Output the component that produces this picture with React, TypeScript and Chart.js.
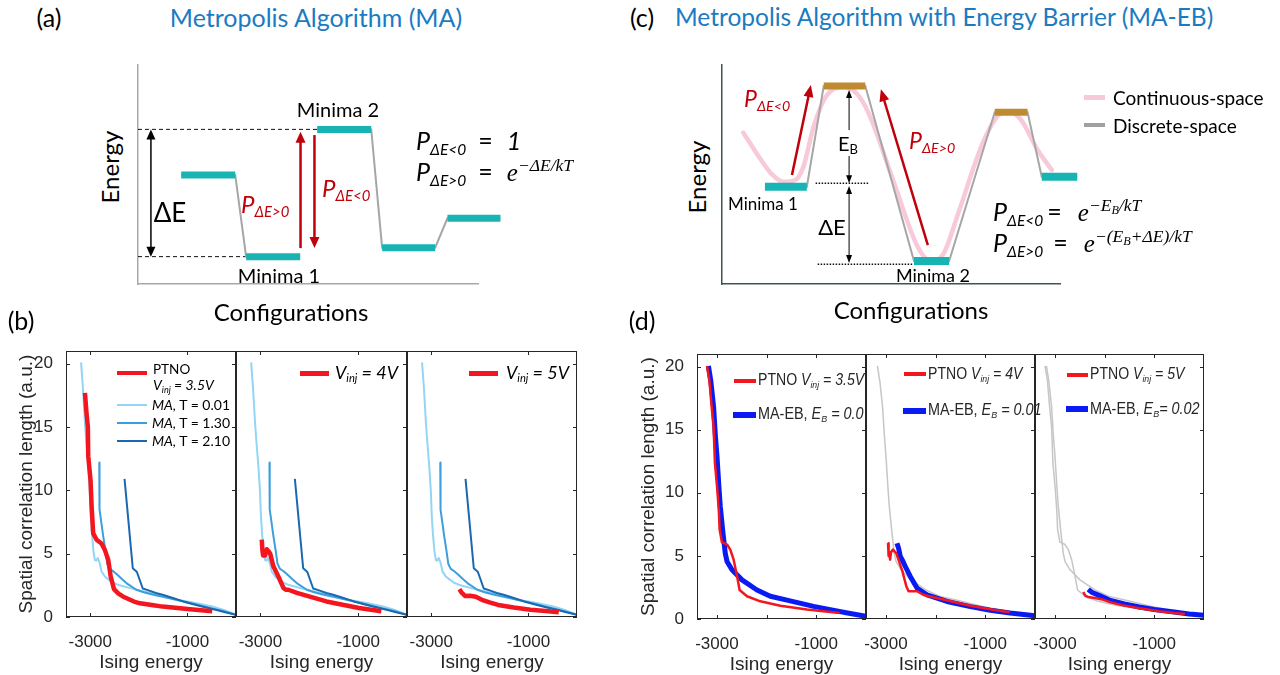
import React, { useEffect, useRef } from 'react';
import { Chart, registerables } from 'chart.js';

Chart.register(...registerables);

const SANS = '"Liberation Sans", Arial, Helvetica, sans-serif';
const NARROW = '"Liberation Sans Narrow", "Liberation Sans", Arial, sans-serif';
const CAL = 'Lato, "Open Sans", sans-serif';
const SERIF = '"Liberation Serif", "DejaVu Serif", serif';
const AX = '#262626';

const C_RED = '#f4161e';
const C_MA1 = '#92d5f5';
const C_MA2 = '#3c9fdd';
const C_MA3 = '#1a68b0';
const C_BLUE = '#0a1af2';
const C_GRAY = '#c6c6c6';
const C_TEAL = '#18b4b4';
const C_BROWN = '#bf8b31';
const C_DRED = '#c0000b';
const C_PINK = '#f8c9d9';
const C_PATH = '#a6a6a6';
const C_TITLE = '#1b7bc2';

// ---------------- (b) data: Ising energy vs spatial correlation length ----------------
const maT001X = [-3190, -3150, -3110, -3075, -3040, -3010, -2990, -2965, -2935, -2905, -2880, -2845, -2810, -2770, -2700, -2620, -2530, -2400, -2200, -1950, -1680, -1450, -1250, -1000, -830, -490, -250, 0];
const maT001Y = [20.1, 18.0, 15.3, 13.5, 11.8, 10.0, 8.0, 6.5, 5.2, 4.5, 4.45, 4.65, 4.3, 3.6, 3.2, 2.95, 2.7, 2.5, 2.3, 2.05, 1.85, 1.6, 1.38, 1.22, 1.1, 0.84, 0.55, 0.18];

const maT130X = [-2815, -2812, -2808, -2770, -2735, -2690, -2650, -2600, -2540, -2460, -2350, -2250, -2050, -1900, -1700, -1511, -1300, -1085, -880, -660, -400, -200, 0];
const maT130Y = [12.2, 10.2, 8.5, 7.4, 6.4, 5.3, 4.2, 3.8, 3.65, 3.4, 3.0, 2.66, 2.15, 1.95, 1.75, 1.6, 1.42, 1.23, 1.05, 0.84, 0.6, 0.4, 0.18];

const maT210X = [-2295, -2125, -2080, -2040, -1980, -1920, -1800, -1650, -1511, -1300, -1085, -880, -660, -400, -200, 0];
const maT210Y = [10.9, 3.85, 3.7, 3.55, 2.9, 2.25, 2.1, 1.9, 1.76, 1.5, 1.23, 1.0, 0.79, 0.55, 0.35, 0.18];

const ptno35bX = [-3110, -3080, -3050, -3042, -2995, -2972, -2940, -2870, -2770, -2700, -2630, -2580, -2512, -2420, -2320, -2100, -1976, -1700, -1511, -1000, -490];
const ptno35bY = [17.7, 16.2, 15.0, 12.7, 10.8, 8.7, 6.6, 6.1, 5.8, 5.3, 4.5, 3.2, 2.2, 1.85, 1.6, 1.22, 1.08, 0.92, 0.82, 0.63, 0.45];

const ptno4bX = [-2973, -2960, -2945, -2925, -2905, -2870, -2835, -2800, -2735, -2633, -2530, -2480, -2428, -2255, -1650, -983, -525];
const ptno4bY = [6.1, 5.3, 4.85, 5.1, 4.85, 5.35, 5.2, 5.0, 4.0, 3.2, 2.3, 2.15, 2.15, 1.9, 1.23, 0.71, 0.45];

const ptno5bX = [-2420, -2380, -2300, -2200, -2083, -1958, -1800, -1625, -1300, -958, -650, -375];
const ptno5bY = [2.2, 1.95, 1.65, 1.68, 1.6, 1.36, 1.15, 0.95, 0.75, 0.58, 0.47, 0.37];

// ---------------- (d) data ----------------
const ptno35dX = [-3199, -3150, -3110, -3066, -3040, -2990, -2960, -2945, -2900, -2796, -2730, -2663, -2595, -2543, -2394, -2126, -1724, -1187, -718, -530];
const ptno35dY = [20.05, 18.9, 17.0, 15.2, 12.4, 10.2, 8.5, 7.1, 6.1, 5.9, 5.5, 4.7, 3.4, 2.3, 1.8, 1.4, 1.05, 0.76, 0.55, 0.48];

const maeb00X = [-3170, -3120, -3066, -3030, -2998, -2960, -2931, -2877, -2831, -2796, -2696, -2495, -2193, -1925, -1589, -1054, -718, -400, 0];
const maeb00Y = [20.05, 18.8, 16.8, 14.5, 12.9, 10.5, 8.9, 6.8, 5.2, 4.56, 3.9, 3.1, 2.3, 1.8, 1.5, 1.0, 0.74, 0.5, 0.21];

const ptno4dX = [-2957, -2945, -2931, -2915, -2897, -2857, -2790, -2676, -2589, -2543, -2374, -2241, -1800, -1300, -900, -510];
const ptno4dY = [6.0, 5.0, 5.2, 4.7, 5.3, 5.5, 5.2, 3.9, 2.6, 2.2, 2.2, 1.9, 1.5, 1.05, 0.78, 0.53];

const maeb001X = [-2777, -2744, -2710, -2660, -2609, -2509, -2374, -2173, -1770, -1300, -900, -500, 0];
const maeb001Y = [6.0, 5.6, 4.96, 4.6, 4.16, 3.37, 2.45, 1.92, 1.39, 0.98, 0.7, 0.48, 0.25];

const ptno5dX = [-2428, -2390, -2328, -2193, -2050, -1900, -1650, -1300, -900, -600, -384];
const ptno5dY = [2.14, 1.85, 1.74, 1.66, 1.55, 1.35, 1.1, 0.85, 0.62, 0.48, 0.4];

const maeb002X = [-2330, -2250, -2100, -1900, -1600, -1300, -1000, -600, -300, 0];
const maeb002Y = [2.35, 2.1, 1.85, 1.5, 1.2, 0.95, 0.75, 0.55, 0.4, 0.3];

const yTickValues = [0, 5, 10, 15, 20];
const bXTicks = [-3000, -1000];
const dXTicks = [-3000, -2000, -1000];
const xTickLabels = [-3000, -1000];

// ---------------- (a) schematic data (configuration 0-100, energy 0-100) ----------------
const aLevelStart = [12.7, 31.8, 52.7, 71.8, 91.0];
const aLevelEnd = [28.6, 47.7, 68.6, 87.4, 106.6];
const aLevelEnergy = [49.8, 12.5, 70.6, 16.6, 30.0];
const aLinked = [true, false, true, true];
const aDashEnergy = [70.6, 12.5];
const aDashEnd = [52.7, 31.8];

// ---------------- (c) schematic data ----------------
const cMinStart = [12.7, 56.8, 94.6];
const cMinEnd = [25.1, 67.2, 105.1];
const cMinEnergy = [44.4, 10.5, 49.0];
const cBarStart = [30.1, 80.7];
const cBarEnd = [42.4, 90.4];
const cBarEnergy = [90.4, 78.4];
const cContX = [6.3, 10.9, 14.5, 18.1, 21.7, 24.1, 27.1, 30.7, 35.5, 39.8, 43.4, 50.6, 57.9, 62.0, 65.6, 69.9, 77.1, 81.9, 84.9, 88.5, 93.4, 97.6];
const cContY = [69.1, 58.1, 50.5, 46.7, 47.5, 53.6, 71.8, 85.5, 89.8, 87.1, 77.9, 47.5, 17.0, 10.2, 14.0, 32.3, 64.2, 77.2, 78.7, 74.9, 61.2, 52.0];
const cDotEnergy = [46, 9];
const cDotStart = [27.7, 28.3];
const cDotEnd = [43.4, 56.6];

type Series = { xs: number[]; ys: number[]; color: string; width: number };

function linePts(xs: number[], ys: number[]) {
  return xs.map((x, i) => ({ x, y: ys[i] }));
}

const boxPlugin = {
  id: 'mbox',
  afterDatasetsDraw(chart: any) {
    const { ctx, chartArea: a } = chart;
    const xs = chart.scales.x;
    const ys = chart.scales.y;
    const showLeft = chart.options.scales.y.ticks.display;
    ctx.save();
    ctx.strokeStyle = AX;
    ctx.lineWidth = 1;
    ctx.strokeRect(a.left + 0.5, a.top + 0.5, a.right - a.left - 1, a.bottom - a.top - 1);
    const L = 4;
    ctx.beginPath();
    xs.ticks.forEach((t: any) => {
      const px = Math.round(xs.getPixelForValue(t.value)) + 0.5;
      ctx.moveTo(px, a.bottom);
      ctx.lineTo(px, a.bottom - L);
      ctx.moveTo(px, a.top);
      ctx.lineTo(px, a.top + L);
    });
    ys.ticks.forEach((t: any) => {
      const py = Math.round(ys.getPixelForValue(t.value)) + 0.5;
      if (showLeft) {
        ctx.moveTo(a.left, py);
        ctx.lineTo(a.left + L, py);
      }
      ctx.moveTo(a.right, py);
      ctx.lineTo(a.right - L, py);
    });
    ctx.stroke();
    ctx.restore();
  },
};

type PanelOpts = { xmin: number; xmax: number; xticks: number[]; showY: boolean; yw: number; pt: number; pr: number; xh: number };

function plotConfig(series: Series[], o: PanelOpts) {
  const n = series.length;
  return {
    type: 'line',
    data: {
      datasets: series.map((s, i) => ({
        data: linePts(s.xs, s.ys),
        borderColor: s.color,
        borderWidth: s.width,
        pointRadius: 0,
        pointHoverRadius: 0,
        tension: 0,
        fill: false,
        order: n - i,
        borderJoinStyle: 'round',
        borderCapStyle: 'butt',
      })),
    },
    options: {
      responsive: false,
      animation: false,
      events: [],
      layout: { padding: { left: 0, top: o.pt, right: o.pr, bottom: 0 } },
      plugins: { legend: { display: false }, tooltip: { enabled: false } },
      scales: {
        x: {
          type: 'linear',
          min: o.xmin,
          max: o.xmax,
          afterBuildTicks: (s: any) => {
            s.ticks = o.xticks.map((v) => ({ value: v }));
          },
          afterFit: (s: any) => {
            s.height = o.xh;
          },
          ticks: {
            autoSkip: false,
            maxRotation: 0,
            minRotation: 0,
            padding: 7,
            color: AX,
            font: { family: SANS, size: 17 },
            callback: (v: number) => (xTickLabels.indexOf(v) >= 0 ? String(v) : ''),
          },
          grid: { display: false },
          border: { display: false },
          title: { display: true, text: 'Ising energy', color: AX, font: { family: SANS, size: 19 }, padding: 0 },
        },
        y: {
          type: 'linear',
          min: 0,
          max: 21,
          afterBuildTicks: (s: any) => {
            s.ticks = yTickValues.map((v) => ({ value: v }));
          },
          afterFit: (s: any) => {
            s.width = o.yw;
          },
          ticks: { display: o.showY, padding: 5, color: AX, font: { family: SANS, size: 17 }, callback: (v: number) => String(v) },
          grid: { display: false },
          border: { display: false },
          title: { display: o.showY, text: 'Spatial correlation length (a.u.)', color: AX, font: { family: SANS, size: 19 }, padding: 0 },
        },
      },
    },
    plugins: [boxPlugin],
  };
}

type Arrow = { x1: number; y1: number; x2: number; y2: number; color: string; width: number; len: number; hw: number; both?: boolean };

function arrowPlugin(items: Arrow[]) {
  return {
    id: 'arrows',
    afterDatasetsDraw(chart: any) {
      const { ctx } = chart;
      const xs = chart.scales.x;
      const ys = chart.scales.y;
      const head = (x: number, y: number, ang: number, len: number, w: number) => {
        const c = Math.cos(ang);
        const s = Math.sin(ang);
        ctx.beginPath();
        ctx.moveTo(x, y);
        ctx.lineTo(x - len * c + (w / 2) * s, y - len * s - (w / 2) * c);
        ctx.lineTo(x - len * c - (w / 2) * s, y - len * s + (w / 2) * c);
        ctx.closePath();
        ctx.fill();
      };
      items.forEach((a) => {
        const x1 = xs.getPixelForValue(a.x1);
        const y1 = ys.getPixelForValue(a.y1);
        const x2 = xs.getPixelForValue(a.x2);
        const y2 = ys.getPixelForValue(a.y2);
        const ang = Math.atan2(y2 - y1, x2 - x1);
        const c = Math.cos(ang);
        const s = Math.sin(ang);
        ctx.save();
        ctx.strokeStyle = a.color;
        ctx.fillStyle = a.color;
        ctx.lineWidth = a.width;
        ctx.beginPath();
        const k = a.len * 0.8;
        ctx.moveTo(a.both ? x1 + c * k : x1, a.both ? y1 + s * k : y1);
        ctx.lineTo(x2 - c * k, y2 - s * k);
        ctx.stroke();
        head(x2, y2, ang, a.len, a.hw);
        if (a.both) head(x1, y1, ang + Math.PI, a.len, a.hw);
        ctx.restore();
      });
    },
  };
}

function seg(pts: any[], color: string, width: number, extra: any = {}) {
  return { data: pts, borderColor: color, borderWidth: width, pointRadius: 0, tension: 0, fill: false, clip: false, borderCapStyle: 'butt', ...extra };
}

function diagramConfig(datasets: any[], arrows: Arrow[], padding: any, axisColor: string) {
  const n = datasets.length;
  datasets.forEach((d, i) => {
    d.order = n - i;
  });
  return {
    type: 'line',
    data: { datasets },
    options: {
      responsive: false,
      animation: false,
      events: [],
      layout: { padding },
      plugins: { legend: { display: false }, tooltip: { enabled: false } },
      scales: {
        x: {
          type: 'linear', min: 0, max: 100,
          ticks: { display: false }, grid: { display: false },
          border: { display: true, color: axisColor, width: 1.5 },
          afterFit: (s: any) => { s.height = 0; },
        },
        y: {
          type: 'linear', min: 0, max: 100,
          ticks: { display: false }, grid: { display: false },
          border: { display: true, color: axisColor, width: 1.5 },
          afterFit: (s: any) => { s.width = 0; },
        },
      },
    },
    plugins: [arrowPlugin(arrows)],
  };
}

function makeA() {
  const ds: any[] = [];
  aDashEnergy.forEach((e, i) => ds.push(seg([{ x: 0, y: e }, { x: aDashEnd[i], y: e }], '#111', 1, { borderDash: [4, 3] })));
  const path: any[] = [];
  aLevelStart.forEach((s, i) => {
    if (i > 0 && !aLinked[i - 1]) path.push({ x: (aLevelEnd[i - 1] + s) / 2, y: null });
    path.push({ x: s, y: aLevelEnergy[i] }, { x: aLevelEnd[i], y: aLevelEnergy[i] });
  });
  ds.push(seg(path, C_PATH, 2));
  aLevelStart.forEach((s, i) => ds.push(seg([{ x: s, y: aLevelEnergy[i] }, { x: aLevelEnd[i], y: aLevelEnergy[i] }], C_TEAL, 7)));
  const arrows: Arrow[] = [
    { x1: 3.8, y1: aLevelEnergy[1], x2: 3.8, y2: aLevelEnergy[2], color: '#000', width: 1.5, len: 10, hw: 9, both: true },
    { x1: 47.8, y1: 16.4, x2: 47.8, y2: 69.5, color: C_DRED, width: 2.5, len: 11, hw: 10 },
    { x1: 51.9, y1: 68.0, x2: 51.9, y2: 16.4, color: C_DRED, width: 2.5, len: 11, hw: 10 },
  ];
  return diagramConfig(ds, arrows, { left: 8, top: 10, right: 42, bottom: 11 }, '#a8a8a8');
}

function makeC() {
  const ds: any[] = [];
  ds.push(seg(linePts(cContX, cContY), C_PINK, 4.5, { cubicInterpolationMode: 'monotone', borderCapStyle: 'round' }));
  const path: any[] = [];
  cMinStart.forEach((s, i) => {
    path.push({ x: s, y: cMinEnergy[i] }, { x: cMinEnd[i], y: cMinEnergy[i] });
    if (i < cBarStart.length) path.push({ x: cBarStart[i], y: cBarEnergy[i] }, { x: cBarEnd[i], y: cBarEnergy[i] });
  });
  ds.push(seg(path, C_PATH, 2));
  cDotEnergy.forEach((e, i) => ds.push(seg([{ x: cDotStart[i], y: e }, { x: cDotEnd[i], y: e }], '#111', 1.5, { borderDash: [1.5, 1.5] })));
  cMinStart.forEach((s, i) => ds.push(seg([{ x: s, y: cMinEnergy[i] }, { x: cMinEnd[i], y: cMinEnergy[i] }], C_TEAL, 8)));
  cBarStart.forEach((s, i) => ds.push(seg([{ x: s, y: cBarEnergy[i] }, { x: cBarEnd[i], y: cBarEnergy[i] }], C_BROWN, 7)));
  const arrows: Arrow[] = [
    { x1: 37.6, y1: cDotEnergy[0], x2: 37.6, y2: 88.6, color: '#000', width: 1, len: 8, hw: 6, both: true },
    { x1: 37.6, y1: 44.8, x2: 37.6, y2: 9.6, color: '#000', width: 1, len: 8, hw: 6, both: true },
    { x1: 20.7, y1: 49.8, x2: 26.3, y2: 90.9, color: C_DRED, width: 2.5, len: 12, hw: 10 },
    { x1: 60.9, y1: 17.8, x2: 47.0, y2: 88.9, color: C_DRED, width: 2.5, len: 12, hw: 10 },
  ];
  return diagramConfig(ds, arrows, { left: 10, top: 10, right: 32, bottom: 11 }, '#3e5454');
}

function ChartBox(props: { left: number; top: number; width: number; height: number; make: () => any }) {
  const ref = useRef<HTMLCanvasElement | null>(null);
  useEffect(() => {
    const chart = new Chart(ref.current as HTMLCanvasElement, props.make() as any);
    return () => {
      chart.destroy();
    };
  }, []);
  return (
    <canvas
      ref={ref}
      width={props.width}
      height={props.height}
      style={{ position: 'absolute', left: props.left, top: props.top, width: props.width, height: props.height }}
    />
  );
}

function Txt(props: { x: number; y: number; size: number; a?: string; color?: string; rot?: boolean; sx?: number; style?: any; children: any }) {
  const tr = props.a === 'l' ? 'translate(0,-50%)' : 'translate(-50%,-50%)';
  return (
    <div
      style={{
        position: 'absolute',
        left: props.x,
        top: props.y,
        transform: tr + (props.rot ? ' rotate(-90deg)' : '') + (props.sx ? ` scaleX(${props.sx})` : ''),
        transformOrigin: props.sx ? 'left center' : undefined,
        whiteSpace: 'nowrap',
        lineHeight: 1,
        fontSize: props.size,
        color: props.color || '#000',
        ...(props.style || {}),
      }}
    >
      {props.children}
    </div>
  );
}

const Sub = (p: { children: any; s?: number; t?: number }) => (
  <span style={{ fontSize: (p.s || 0.62) + 'em', position: 'relative', top: (p.t === undefined ? 0.3 : p.t) + 'em' }}>{p.children}</span>
);
const Sup = (p: { children: any }) => (
  <span style={{ fontSize: '0.7em', position: 'relative', top: '-0.6em' }}>{p.children}</span>
);
const P = (p: { sub: string }) => (
  <span style={{ fontStyle: 'italic' }}>
    P<Sub>{p.sub}</Sub>
  </span>
);

const Swatch = (p: { x1: number; x2: number; y: number; h: number; color: string }) => (
  <div style={{ position: 'absolute', left: p.x1, top: p.y - p.h / 2, width: p.x2 - p.x1, height: p.h, background: p.color }} />
);

const bSeriesMA: Series[] = [
  { xs: maT001X, ys: maT001Y, color: C_MA1, width: 2 },
  { xs: maT130X, ys: maT130Y, color: C_MA2, width: 2 },
  { xs: maT210X, ys: maT210Y, color: C_MA3, width: 2 },
];

const bPanels = [
  { left: 15, yw: 51, w: 170, showY: true, series: [...bSeriesMA, { xs: ptno35bX, ys: ptno35bY, color: C_RED, width: 4.5 }] },
  { left: 206, yw: 30, w: 171, showY: false, series: [...bSeriesMA, { xs: ptno4bX, ys: ptno4bY, color: C_RED, width: 4.5 }] },
  { left: 377, yw: 30, w: 170, showY: false, series: [...bSeriesMA, { xs: ptno5bX, ys: ptno5bY, color: C_RED, width: 4.5 }] },
];

const dPanels = [
  { left: 637, yw: 60, w: 169, showY: true, series: [{ xs: maeb00X, ys: maeb00Y, color: C_BLUE, width: 5 }, { xs: ptno35dX, ys: ptno35dY, color: C_RED, width: 2.5 }] },
  { left: 836, yw: 30, w: 169, showY: false, series: [{ xs: maeb00X, ys: maeb00Y, color: C_GRAY, width: 1.5 }, { xs: maeb001X, ys: maeb001Y, color: C_BLUE, width: 5 }, { xs: ptno4dX, ys: ptno4dY, color: C_RED, width: 2.5 }] },
  { left: 1005, yw: 30, w: 169, showY: false, series: [{ xs: ptno35dX, ys: ptno35dY, color: C_GRAY, width: 1.5 }, { xs: maeb00X, ys: maeb00Y, color: C_GRAY, width: 1.5 }, { xs: maeb002X, ys: maeb002Y, color: C_BLUE, width: 5 }, { xs: ptno5dX, ys: ptno5dY, color: C_RED, width: 2.5 }] },
];

const NARROW_STYLE = { fontFamily: NARROW };

export default function App() {
  const PT = 20;
  const PR = 10;
  const BXH = 57;
  const DXH = 57;
  return (
    <div style={{ position: 'fixed', left: 0, top: 0, width: 1280, height: 675, background: '#fff', overflow: 'hidden', fontFamily: CAL, color: '#000' }}>
      <ChartBox left={130} top={55} width={390} height={240} make={makeA} />
      <ChartBox left={712} top={55} width={380} height={240} make={makeC} />
      {bPanels.map((p, i) => (
        <ChartBox
          key={'b' + i}
          left={p.left}
          top={351 - PT}
          width={p.yw + p.w + PR}
          height={PT + 266 + BXH}
          make={() => plotConfig(p.series, { xmin: -3500, xmax: 0, xticks: bXTicks, showY: p.showY, yw: p.yw, pt: PT, pr: PR, xh: BXH })}
        />
      ))}
      {dPanels.map((p, i) => (
        <ChartBox
          key={'d' + i}
          left={p.left}
          top={354 - PT}
          width={p.yw + p.w + PR}
          height={PT + 265 + DXH}
          make={() => plotConfig(p.series, { xmin: -3400, xmax: 0, xticks: dXTicks, showY: p.showY, yw: p.yw, pt: PT, pr: PR, xh: DXH })}
        />
      ))}

      {/* panel letters and titles */}
      <Txt x={49} y={17} size={25}>(a)</Txt>
      <Txt x={316} y={17} size={25} color={C_TITLE}>Metropolis Algorithm (MA)</Txt>
      <Txt x={642} y={17} size={25}>(c)</Txt>
      <Txt x={675} y={17} a="l" size={24.5} color={C_TITLE}>Metropolis Algorithm with Energy Barrier (MA-EB)</Txt>
      <Txt x={21} y={320} size={25}>(b)</Txt>
      <Txt x={642} y={320} size={25}>(d)</Txt>

      {/* (a) labels */}
      <Txt x={110} y={167} size={24} rot>Energy</Txt>
      <Txt x={291} y={312} size={24}>Configurations</Txt>
      <Txt x={170} y={212} size={26}>ΔE</Txt>
      <Txt x={338} y={109} size={20}>Minima 2</Txt>
      <Txt x={279} y={275} size={20}>Minima 1</Txt>
      <Txt x={241} y={204} a="l" size={24} color={C_DRED}><P sub="ΔE>0" /></Txt>
      <Txt x={322} y={188} a="l" size={24} color={C_DRED}><P sub="ΔE<0" /></Txt>
      <Txt x={416} y={140} a="l" size={25}>
        <P sub="ΔE<0" />
        <span style={{ margin: '0 14px 0 12px' }}>=</span>
        <i>1</i>
      </Txt>
      <Txt x={416} y={172} a="l" size={25}>
        <P sub="ΔE>0" />
        <span style={{ margin: '0 14px 0 12px' }}>=</span>
        <span style={{ fontFamily: SERIF, fontStyle: 'italic' }}>
          e<Sup>−ΔE/kT</Sup>
        </span>
      </Txt>

      {/* (c) labels */}
      <Txt x={697} y={177} size={24} rot>Energy</Txt>
      <Txt x={911} y={310} size={24}>Configurations</Txt>
      <Txt x={763} y={203} size={17}>Minima 1</Txt>
      <Txt x={933} y={275} size={18}>Minima 2</Txt>
      <Txt x={848} y={143} size={20} style={{ background: '#fff', padding: '3px 1px' }}>
        E<Sub s={0.65} t={0.25}>B</Sub>
      </Txt>
      <Txt x={832} y={227} size={22}>ΔE</Txt>
      <Txt x={744} y={98} a="l" size={23} color={C_DRED}><P sub="ΔE<0" /></Txt>
      <Txt x={909} y={140} a="l" size={23} color={C_DRED}><P sub="ΔE>0" /></Txt>
      <Swatch x1={1084} x2={1105} y={97} h={5} color={C_PINK} />
      <Swatch x1={1084} x2={1105} y={125} h={4} color="#a0a0a0" />
      <Txt x={1113} y={97} a="l" size={19}>Continuous-space</Txt>
      <Txt x={1113} y={125} a="l" size={19}>Discrete-space</Txt>
      <Txt x={993} y={212} a="l" size={25}>
        <P sub="ΔE<0" />
        <span style={{ margin: '0 16px 0 4px' }}>=</span>
        <span style={{ fontFamily: SERIF, fontStyle: 'italic' }}>
          e<Sup>−E<Sub s={0.7} t={0.3}>B</Sub>/kT</Sup>
        </span>
      </Txt>
      <Txt x={993} y={243} a="l" size={25}>
        <P sub="ΔE>0" />
        <span style={{ margin: '0 16px 0 10px' }}>=</span>
        <span style={{ fontFamily: SERIF, fontStyle: 'italic' }}>
          e<Sup>−(E<Sub s={0.7} t={0.3}>B</Sub>+ΔE)/kT</Sup>
        </span>
      </Txt>

      {/* (b) legends */}
      <Swatch x1={117} x2={147} y={373} h={4.5} color={C_RED} />
      <Txt x={153} y={370} a="l" size={13.5}>PTNO</Txt>
      <Txt x={153} y={385} a="l" size={14} style={{ fontStyle: 'italic' }}>
        V<Sub s={0.65}>inj</Sub> = 3.5V
      </Txt>
      <Swatch x1={117} x2={147} y={405} h={2.5} color={C_MA1} />
      <Swatch x1={117} x2={147} y={423} h={2.5} color={C_MA2} />
      <Swatch x1={117} x2={147} y={441} h={2.5} color={C_MA3} />
      <Txt x={152} y={405} a="l" size={14}><i>MA,</i> T = 0.01</Txt>
      <Txt x={152} y={423} a="l" size={14}><i>MA,</i> T = 1.30</Txt>
      <Txt x={152} y={441} a="l" size={14}><i>MA,</i> T = 2.10</Txt>

      <Swatch x1={300} x2={329} y={373} h={5} color={C_RED} />
      <Txt x={335} y={372} a="l" size={18} style={{ fontStyle: 'italic' }}>
        V<Sub s={0.62}>inj</Sub> = 4V
      </Txt>
      <Swatch x1={469} x2={498} y={373} h={5} color={C_RED} />
      <Txt x={506} y={372} a="l" size={18} style={{ fontStyle: 'italic' }}>
        V<Sub s={0.62}>inj</Sub> = 5V
      </Txt>

      {/* (d) legends */}
      <Swatch x1={734} x2={756} y={381} h={3.5} color={C_RED} />
      <Swatch x1={733} x2={756} y={415} h={6} color={C_BLUE} />
      <Txt x={758} y={380} a="l" size={16} sx={0.88} color={AX} style={NARROW_STYLE}>
        PTNO <i>V<Sub s={0.62}>inj</Sub> = 3.5V</i>
      </Txt>
      <Txt x={758} y={414} a="l" size={16} sx={0.9} color={AX} style={NARROW_STYLE}>
        MA-EB, <i>E<Sub s={0.62}>B</Sub> = 0.0</i>
      </Txt>

      <Swatch x1={904} x2={926} y={374} h={3.5} color={C_RED} />
      <Swatch x1={903} x2={926} y={411} h={6} color={C_BLUE} />
      <Txt x={928} y={374} a="l" size={16} sx={0.88} color={AX} style={NARROW_STYLE}>
        PTNO <i>V<Sub s={0.62}>inj</Sub> = 4V</i>
      </Txt>
      <Txt x={928} y={410} a="l" size={16} sx={0.9} color={AX} style={NARROW_STYLE}>
        MA-EB, <i>E<Sub s={0.62}>B</Sub> = 0.01</i>
      </Txt>

      <Swatch x1={1067} x2={1088} y={375} h={3.5} color={C_RED} />
      <Swatch x1={1066} x2={1088} y={409} h={6} color={C_BLUE} />
      <Txt x={1090} y={374} a="l" size={16} sx={0.88} color={AX} style={NARROW_STYLE}>
        PTNO <i>V<Sub s={0.62}>inj</Sub> = 5V</i>
      </Txt>
      <Txt x={1090} y={409} a="l" size={16} sx={0.9} color={AX} style={NARROW_STYLE}>
        MA-EB, <i>E<Sub s={0.62}>B</Sub>= 0.02</i>
      </Txt>
    </div>
  );
}
